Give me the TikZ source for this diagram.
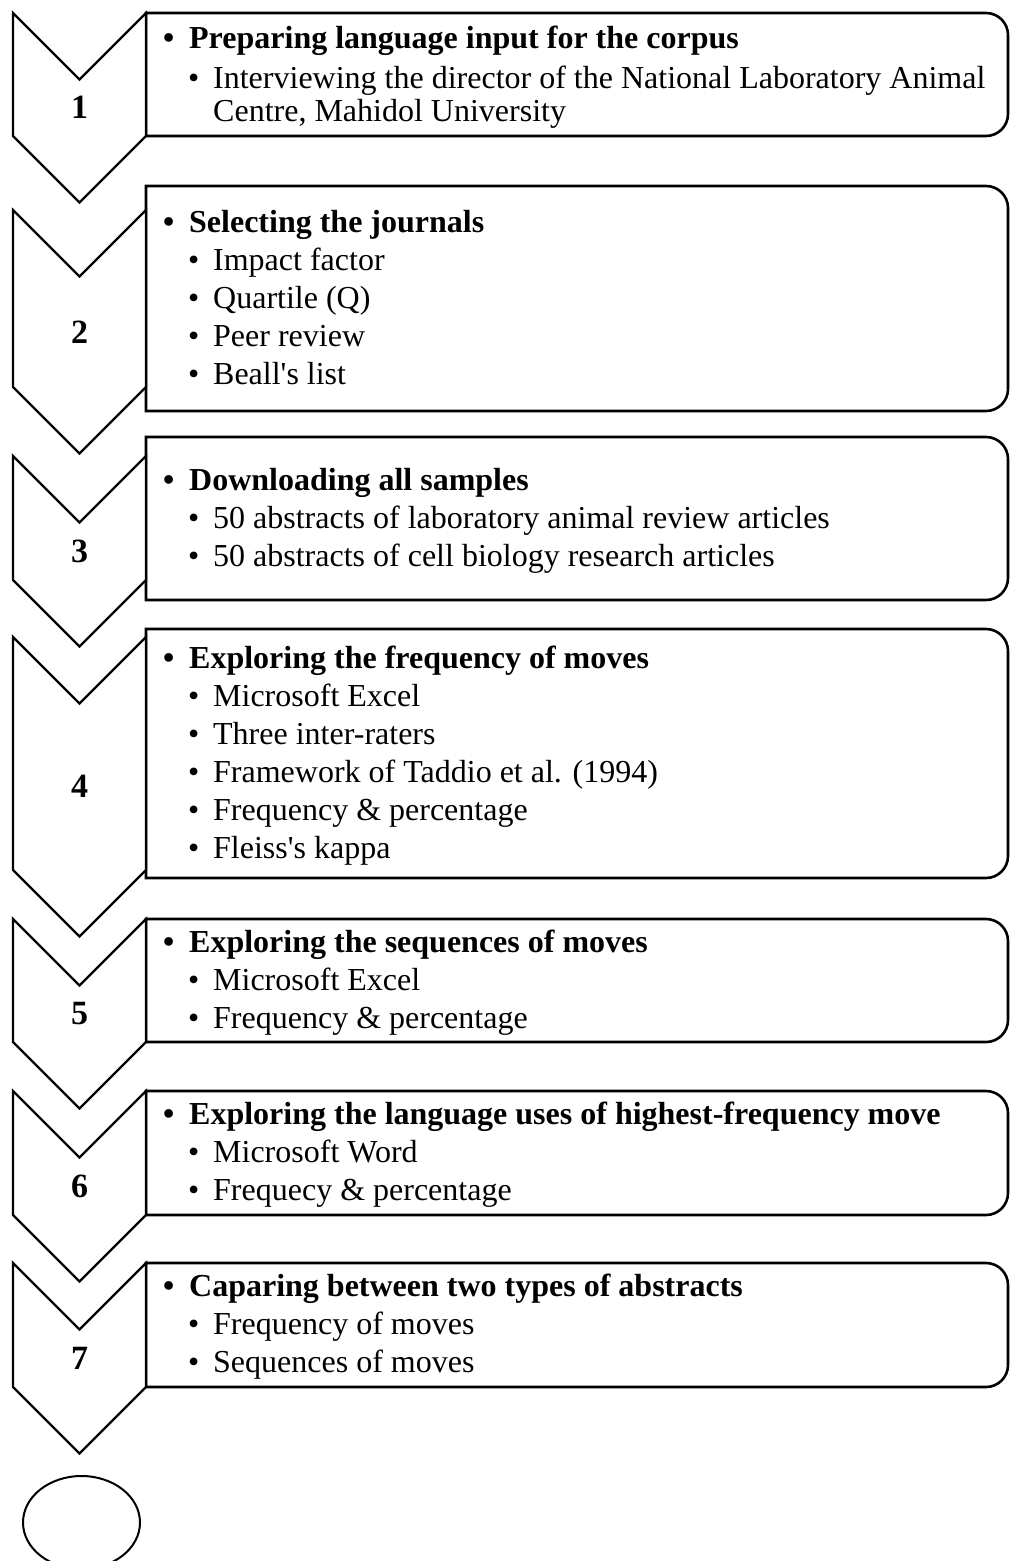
\documentclass[tikz,border=0pt]{standalone}
\usepackage{fontspec}
\setmainfont{Liberation Serif}
\newcommand\headbul{\makebox[26pt][l]{\textbullet}}
\newcommand\subbul{\makebox[25pt][l]{\textbullet}}
\begin{document}
\begin{tikzpicture}[x=1pt,y=1pt,
  chevron/.style={draw=black, line width=2.2pt, fill=white, line join=miter},
  panel/.style={draw=black, line width=2.6pt, fill=white},
  stepnum/.style={font=\fontsize{34}{34}\selectfont\bfseries, inner sep=0pt},
  headline/.style={anchor=base west, inner sep=0pt, font=\fontsize{32}{38}\selectfont\bfseries},
  subline/.style={anchor=base west, inner sep=0pt, font=\fontsize{32}{38}\selectfont},
]
\useasboundingbox (0,0) rectangle (1010,-1561);

% text panels: square on the left, rounded on the right
\foreach \t/\b in {13/136, 186/411, 437/600, 629/878, 919/1042, 1091/1215, 1263/1387} {
  \draw[panel] (146,-\t) -- (986,-\t) arc[start angle=90, end angle=0, radius=22pt]
    -- (1008,-\b+22) arc[start angle=0, end angle=-90, radius=22pt]
    -- (146,-\b) -- cycle;
}

% step chevrons
\foreach \t/\e in {13/136, 210/387, 456/580, 637/870, 919/1042, 1091/1215, 1263/1387} {
  \draw[chevron] (13,-\t) -- (79.5,-\t-66.5) -- (146,-\t) -- (146,-\e)
    -- (79.5,-\e-66.5) -- (13,-\e) -- cycle;
}

% step numbers
\node[stepnum] (n1) at (79.5,-107.75) {1};
\node[stepnum] (n2) at (79.5,-331.75) {2};
\node[stepnum] (n3) at (79.5,-551.25) {3};
\node[stepnum] (n4) at (79.5,-786.75) {4};
\node[stepnum] (n5) at (79.5,-1013.75) {5};
\node[stepnum] (n6) at (79.5,-1186.25) {6};
\node[stepnum] (n7) at (79.5,-1358.25) {7};

% step 1
\node[headline] (h1) at (163,-48.5) {\headbul Preparing language input for the corpus};
\node[subline] (s1a) at (188,-88.5) {\subbul Interviewing the director of the National Laboratory Animal};
\node[subline] (s1b) at (213,-121.5) {Centre, Mahidol University};

% step 2
\node[headline] (h2) at (163,-232) {\headbul Selecting the journals};
\node[subline] (s2a) at (188,-270) {\subbul Impact factor};
\node[subline] (s2b) at (188,-308) {\subbul Quartile (Q)};
\node[subline] (s2c) at (188,-346) {\subbul Peer review};
\node[subline] (s2d) at (188,-384) {\subbul Beall\textquotesingle s list};

% step 3
\node[headline] (h3) at (163,-490) {\headbul Downloading all samples};
\node[subline] (s3a) at (188,-528) {\subbul 50 abstracts of laboratory animal review articles};
\node[subline] (s3b) at (188,-566) {\subbul 50 abstracts of cell biology research articles};

% step 4
\node[headline] (h4) at (163,-668) {\headbul Exploring the frequency of moves};
\node[subline] (s4a) at (188,-706) {\subbul Microsoft Excel};
\node[subline] (s4b) at (188,-744) {\subbul Three inter-raters};
\node[subline] (s4c) at (188,-782) {\subbul Framework of Taddio et al. (1994)};
\node[subline] (s4d) at (188,-820) {\subbul Frequency \& percentage};
\node[subline] (s4e) at (188,-858) {\subbul Fleiss\textquotesingle s kappa};

% step 5
\node[headline] (h5) at (163,-952) {\headbul Exploring the sequences of moves};
\node[subline] (s5a) at (188,-990) {\subbul Microsoft Excel};
\node[subline] (s5b) at (188,-1028) {\subbul Frequency \& percentage};

% step 6
\node[headline] (h6) at (163,-1124.5) {\headbul Exploring the language uses of highest-frequency move};
\node[subline] (s6a) at (188,-1162.5) {\subbul Microsoft Word};
\node[subline] (s6b) at (188,-1200.5) {\subbul Frequecy \& percentage};

% step 7
\node[headline] (h7) at (163,-1296) {\headbul Caparing between two types of abstracts};
\node[subline] (s7a) at (188,-1334) {\subbul Frequency of moves};
\node[subline] (s7b) at (188,-1372) {\subbul Sequences of moves};

% end marker
\draw[line width=2pt] (81.5,-1522.5) ellipse [x radius=58.5pt, y radius=46.5pt];
\end{tikzpicture}
\end{document}
